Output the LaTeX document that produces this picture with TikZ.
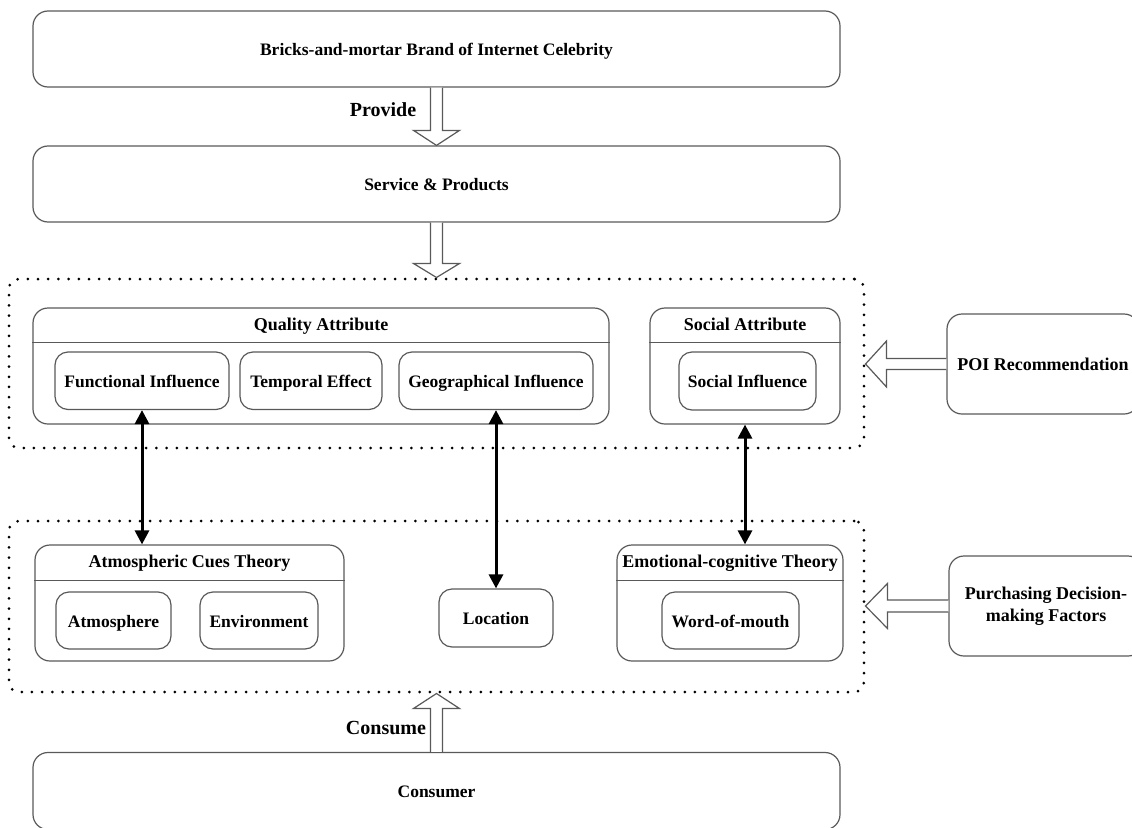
\documentclass[tikz,border=0pt]{standalone}
\usepackage{fontspec}
\setmainfont{Liberation Serif}
\usetikzlibrary{arrows.meta,calc}
\begin{document}
\begin{tikzpicture}[x=1pt,y=-1pt,
  txt/.style={font=\fontsize{17.5}{21.7}\selectfont\bfseries,text height=14.5pt,text depth=1.5pt},
  bigbox/.style={draw=black!65,line width=1.2pt,rounded corners=15pt,inner sep=0pt,txt},
  grpbox/.style={draw=black!65,line width=1.2pt,rounded corners=15pt,inner sep=0pt},
  subbox/.style={draw=black!65,line width=1.2pt,rounded corners=13pt,inner sep=0pt,txt},
  hdr/.style={font=\fontsize{18}{21}\selectfont\bfseries,inner sep=0pt,text height=14pt,text depth=3.5pt},
  dotbox/.style={draw=black,line width=3pt,dash pattern=on 0pt off 10.2pt,line cap=round,rounded corners=10pt,inner sep=0pt},
  hollow/.style={draw=black!65,line width=1.2pt,fill=white,line join=miter},
  dbl/.style={line width=3pt,{Triangle[length=14pt,width=14pt]}-{Triangle[length=14pt,width=14pt]}},
  lbl/.style={font=\fontsize{20}{24}\selectfont\bfseries,inner sep=0pt}
]
\useasboundingbox (0,0) rectangle (1132,827);

% dotted regions
\node[dotbox,minimum width=855pt,minimum height=169pt] (r1) at (436.5,363.5) {};
\node[dotbox,minimum width=855pt,minimum height=171pt] (r2) at (436.5,606.5) {};

% big boxes
\node[bigbox,minimum width=807pt,minimum height=76pt] (brand) at (436.5,49) {Bricks-and-mortar Brand of Internet Celebrity};
\node[bigbox,minimum width=807pt,minimum height=76pt] (serv) at (436.5,184) {Service \& Products};
\node[bigbox,minimum width=807pt,minimum height=77pt] (cons) at (436.5,791) {Consumer};

% quality attribute group
\node[grpbox,minimum width=576pt,minimum height=116pt] (qa) at (321,366) {};
\node[hdr] (qat) at ($(qa.north)+(0,17.5)$) {Quality Attribute};
\draw[draw=black!65,line width=1.2pt] ($(qa.north west)+(0,35)$) -- ($(qa.north east)+(0,35)$);
\node[subbox,minimum width=174pt,minimum height=57.5pt] (fi) at (142,380.75) {Functional Influence};
\node[subbox,minimum width=142pt,minimum height=57.5pt] (te) at (311,380.75) {Temporal Effect};
\node[subbox,minimum width=194pt,minimum height=57.5pt] (gi) at (496,380.75) {Geographical Influence};

% social attribute group
\node[grpbox,minimum width=190pt,minimum height=116pt] (sa) at (745,366) {};
\node[hdr] (sat) at ($(sa.north)+(0,17.5)$) {Social Attribute};
\draw[draw=black!65,line width=1.2pt] ($(sa.north west)+(0,35)$) -- ($(sa.north east)+(0,35)$);
\node[subbox,minimum width=137pt,minimum height=58pt] (si) at (747.5,381) {Social Influence};

% POI
\node[bigbox,minimum width=192pt,minimum height=100pt,font=\fontsize{18}{21.7}\selectfont\bfseries] (poi) at (1043,364) {POI Recommendation};

% atmospheric cues theory
\node[grpbox,minimum width=309pt,minimum height=116pt] (act) at (189.5,603) {};
\node[hdr] (actt) at ($(act.north)+(0,18)$) {Atmospheric Cues Theory};
\draw[draw=black!65,line width=1.2pt] ($(act.north west)+(0,36)$) -- ($(act.north east)+(0,36)$);
\node[subbox,minimum width=115pt,minimum height=57pt] (atm) at (113.5,620.5) {Atmosphere};
\node[subbox,minimum width=118pt,minimum height=57pt] (env) at (259,620.5) {Environment};

% location
\node[subbox,minimum width=114pt,minimum height=58pt] (loc) at (496,618) {Location};

% emotional-cognitive theory
\node[grpbox,minimum width=226pt,minimum height=116pt] (ect) at (730,603) {};
\node[hdr] (ectt) at ($(ect.north)+(0,18)$) {Emotional-cognitive Theory};
\draw[draw=black!65,line width=1.2pt] ($(ect.north west)+(0,36)$) -- ($(ect.north east)+(0,36)$);
\node[subbox,minimum width=137pt,minimum height=57pt] (wom) at (730.5,620.5) {Word-of-mouth};

% purchasing decision
\node[draw=black!65,line width=1.2pt,rounded corners=15pt,inner sep=0pt,minimum width=194pt,minimum height=100pt,align=center,font=\fontsize{18}{22.5}\selectfont\bfseries] (pdf) at (1046,606) {Purchasing Decision-\\making Factors};

% hollow arrows (vertical)
\draw[hollow] ($(brand.south)+(-6,0)$) -- ($(serv.north)+(-6,-15)$) -- ($(serv.north)+(-23,-15)$) -- (serv.north) -- ($(serv.north)+(23,-15)$) -- ($(serv.north)+(6,-15)$) -- ($(brand.south)+(6,0)$);
\draw[hollow] ($(serv.south)+(-6,0)$) -- ($(r1.north)+(-6,-14)$) -- ($(r1.north)+(-23,-14)$) -- (r1.north) -- ($(r1.north)+(23,-14)$) -- ($(r1.north)+(6,-14)$) -- ($(serv.south)+(6,0)$);
\draw[hollow] ($(cons.north)+(-6,0)$) -- ($(r2.south)+(-6,15)$) -- ($(r2.south)+(-23,15)$) -- (r2.south) -- ($(r2.south)+(23,15)$) -- ($(r2.south)+(6,15)$) -- ($(cons.north)+(6,0)$);

% hollow arrows (horizontal)
\coordinate (poitip) at (r1.east |- poi.west);
\draw[hollow] ($(poi.west)+(0,-5.5)$) -- ($(poitip)+(21,-5.5)$) -- ($(poitip)+(21,-23)$) -- (poitip) -- ($(poitip)+(21,23)$) -- ($(poitip)+(21,5.5)$) -- ($(poi.west)+(0,5.5)$);
\coordinate (pdftip) at (r2.east |- pdf.west);
\draw[hollow] ($(pdf.west)+(0,-6)$) -- ($(pdftip)+(22,-6)$) -- ($(pdftip)+(22,-22.5)$) -- (pdftip) -- ($(pdftip)+(22,22.5)$) -- ($(pdftip)+(22,6)$) -- ($(pdf.west)+(0,6)$);

% labels
\node[lbl] (prov) at (383,110) {Provide};
\node[lbl] (cnsm) at (386,728) {Consume};

% double arrows
\draw[dbl] (fi.south) -- (fi.south |- act.north);
\draw[dbl] (gi.south) -- (gi.south |- loc.north);
\draw[dbl] (sa.south) -- (sa.south |- ect.north);
\end{tikzpicture}
\end{document}
